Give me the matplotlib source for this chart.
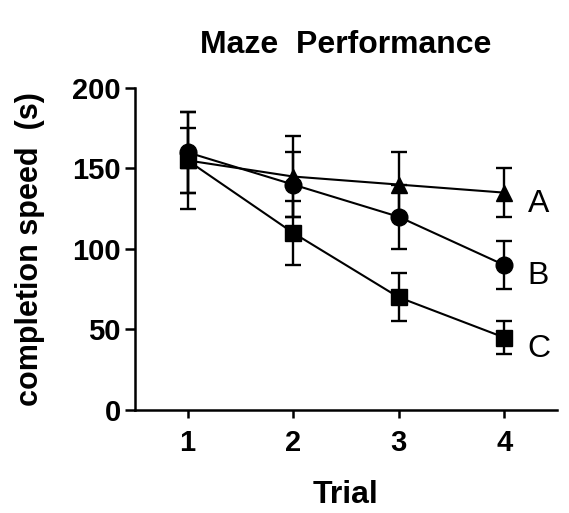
import matplotlib
matplotlib.use("Agg")
import matplotlib.pyplot as plt

plt.rcParams['font.family'] = ['Liberation Sans', 'DejaVu Sans']

trials = [1, 2, 3, 4]
series_names = ["A", "B", "C"]
a_vals = [155, 145, 140, 135]
a_err = [20, 25, 20, 15]
b_vals = [160, 140, 120, 90]
b_err = [25, 20, 20, 15]
c_vals = [155, 110, 70, 45]
c_err = [30, 20, 15, 10]
markers = ["^", "o", "s"]
yticks = [0, 50, 100, 150, 200]

fig = plt.figure(figsize=(5.69, 5.13), dpi=100)
ax = fig.add_axes([0.237, 0.2008, 0.742, 0.6277])

for name, vals, errs, m, ms in zip(series_names, [a_vals, b_vals, c_vals],
                                   [a_err, b_err, c_err], markers, [11.5, 12, 11.5]):
    ax.errorbar(trials, vals, yerr=errs, color='black', marker=m, markersize=ms,
                linewidth=1.5, elinewidth=1.7, capsize=6, capthick=1.7, clip_on=False)
    ax.text(trials[-1] + 0.22, vals[-1] - 7, name, fontsize=23, va='center', ha='left')

ax.set_xlim(0.5, 4.5)
ax.set_ylim(0, 200)
ax.set_xticks(trials)
ax.set_yticks(yticks)
ax.spines['top'].set_visible(False)
ax.spines['right'].set_visible(False)
for s in ['left', 'bottom']:
    ax.spines[s].set_linewidth(1.8)
ax.tick_params(axis='y', width=1.8, length=7, labelsize=21, pad=3)
ax.tick_params(axis='x', width=1.8, length=6, labelsize=21, pad=8)
for lab in ax.get_xticklabels() + ax.get_yticklabels():
    lab.set_fontweight('bold')

ax.set_xlabel("Trial", fontsize=23, fontweight='bold', labelpad=16)
ax.set_ylabel("completion speed  (s)", fontsize=22, fontweight='bold', labelpad=20)
ax.set_title("Maze  Performance", fontsize=23, fontweight='bold', pad=25)

fig.savefig("out.png", dpi=100)
